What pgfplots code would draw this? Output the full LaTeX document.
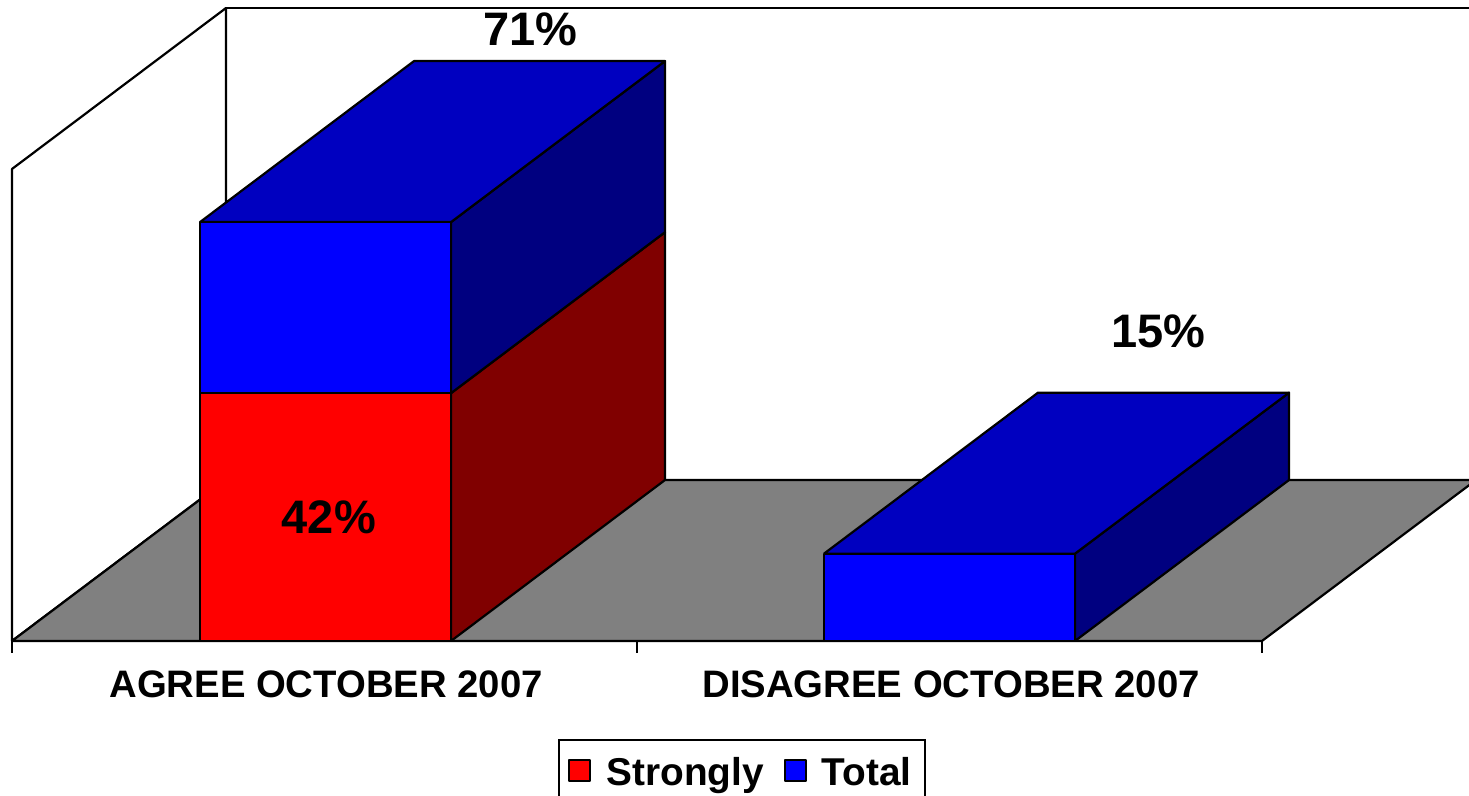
\documentclass[border=0pt]{standalone}
\usepackage{fontspec}
\setmainfont{Liberation Sans}
\usepackage{pgfplots}
\pgfplotsset{compat=1.18}
\definecolor{redfront}{HTML}{FF0000}
\definecolor{redside}{HTML}{800000}
\definecolor{bluefront}{HTML}{0000FF}
\definecolor{bluetop}{HTML}{0000C0}
\definecolor{blueside}{HTML}{000080}
\definecolor{floorgray}{HTML}{808080}
\pgfplotsset{
  face/.style={draw=black, line width=1.1pt, line join=round, fill=#1, forget plot},
  swatch/.style={draw=black, line width=1.1pt, line join=round, fill=#1,
    legend image code/.code={
      \draw[draw=black, fill=#1, line width=1pt] (0pt,-4.25pt) rectangle (10.5pt,6.25pt);
      \path (16pt,0pt);
    }},
}
\begin{document}
\begin{tikzpicture}
\begin{axis}[
  anchor=origin, at={(6pt,77.5pt)},
  x={(312.5pt,0pt)}, y={(107pt,80.5pt)}, z={(0pt,2.95pt)},
  xmin=0, xmax=2, ymin=0, ymax=1, zmin=0, zmax=80,
  clip=false,
  axis line style={draw=none},
  xtick={0.5,1.5},
  xticklabels={AGREE OCTOBER 2007,DISAGREE OCTOBER 2007},
  ytick=\empty, ztick=\empty,
  major tick length=0pt,
  xtick pos=lower,
  x tick label style={font=\fontsize{19.15}{19.15}\selectfont\bfseries, yshift=-11.5pt, xshift=0.8pt, anchor=north},
  legend columns=2,
  legend style={
    at={(axis cs:1.168,0,-16.6)}, anchor=north,
    draw=black, line width=1.1pt,
    font=\fontsize{19.4}{19.4}\selectfont\bfseries,
    inner xsep=4.5pt, inner ysep=6.5pt,
    /tikz/column 2/.style={column sep=8pt},
  },
]
% walls and floor
\addplot3[face=white] coordinates {(0,1,0) (0,1,80) (2,1,80) (2,1,0) (0,1,0)};
\addplot3[face=white] coordinates {(0,0,0) (0,0,80) (0,1,80) (0,1,0) (0,0,0)};
\addplot3[face=floorgray] coordinates {(0,0,0) (2,0,0) (2,1,0) (0,1,0) (0,0,0)};

% category ticks
\addplot3[black, line width=1.1pt, forget plot] coordinates {(0,0,0) (0,0,-2)};
\addplot3[black, line width=1.1pt, forget plot] coordinates {(1,0,0) (1,0,-2)};
\addplot3[black, line width=1.1pt, forget plot] coordinates {(2,0,0) (2,0,-2)};

% AGREE: strongly 42, total 71
\addplot3[face=redside] coordinates {(0.7024,0,0) (0.7024,1,0) (0.7024,1,42) (0.7024,0,42) (0.7024,0,0)};
\addplot3[face=blueside] coordinates {(0.7024,0,42) (0.7024,1,42) (0.7024,1,71) (0.7024,0,71) (0.7024,0,42)};
\addplot3[face=bluetop] coordinates {(0.3008,0,71) (0.7024,0,71) (0.7024,1,71) (0.3008,1,71) (0.3008,0,71)};
\addplot3[swatch=redfront]
  coordinates {(0.3008,0,0) (0.7024,0,0) (0.7024,0,42) (0.3008,0,42) (0.3008,0,0)};
\addlegendentry{Strongly}
\addplot3[swatch=bluefront]
  coordinates {(0.3008,0,42) (0.7024,0,42) (0.7024,0,71) (0.3008,0,71) (0.3008,0,42)};
\addlegendentry{Total}

% DISAGREE: total 15
\addplot3[face=blueside] coordinates {(1.7008,0,0) (1.7008,1,0) (1.7008,1,14.8) (1.7008,0,14.8) (1.7008,0,0)};
\addplot3[face=bluetop] coordinates {(1.2992,0,14.8) (1.7008,0,14.8) (1.7008,1,14.8) (1.2992,1,14.8) (1.2992,0,14.8)};
\addplot3[face=bluefront] coordinates {(1.2992,0,0) (1.7008,0,0) (1.7008,0,14.8) (1.2992,0,14.8) (1.2992,0,0)};

\node[font=\fontsize{23.5}{23.5}\selectfont\bfseries] at (axis cs:0.829,0,103.7) {71\%};
\node[font=\fontsize{23.5}{23.5}\selectfont\bfseries] at (axis cs:0.507,0,21) {42\%};
\node[font=\fontsize{23.5}{23.5}\selectfont\bfseries] at (axis cs:1.834,0,52.5) {15\%};
\end{axis}
\pgfresetboundingbox
\path[use as bounding box] (0pt,0pt) rectangle (734.5pt,398pt);
\end{tikzpicture}
\end{document}
